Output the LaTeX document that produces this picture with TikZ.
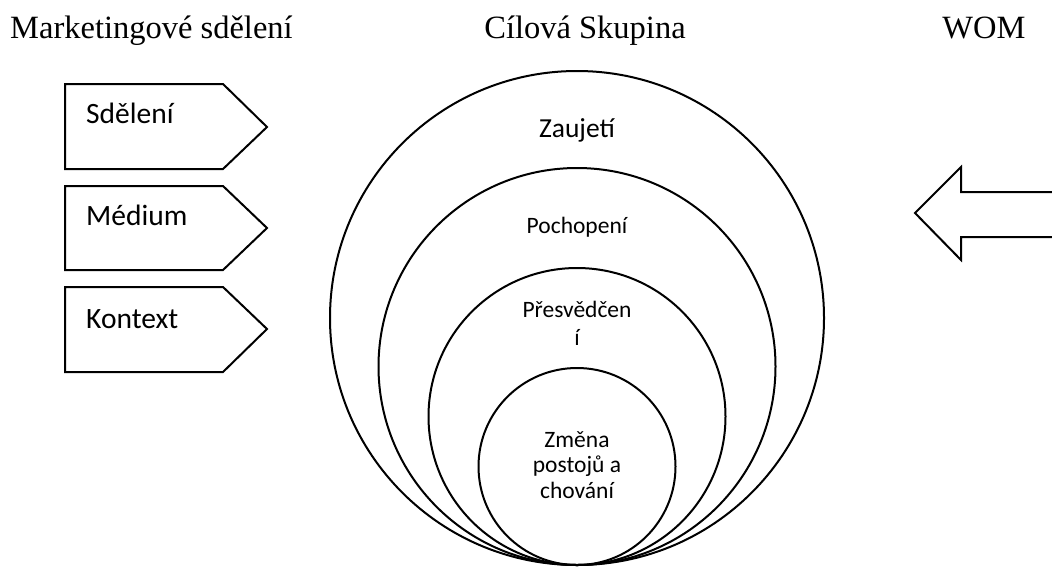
\documentclass[tikz,border=0pt]{standalone}
\usepackage{fontspec}
\setmainfont{Liberation Serif}
\newfontfamily\calib{Carlito}
\tikzset{
  every picture/.style={x=1pt,y=-1pt},
  outl/.style={draw=black, line width=2pt, line join=miter},
  ring/.style={circle, draw=black, line width=2pt, inner sep=0pt, outer sep=0pt},
  title/.style={font=\fontsize{32.5}{36}\selectfont, inner sep=0pt, anchor=base},
  lbl/.style={font=\calib\fontsize{23.5}{27}\selectfont, inner sep=0pt, anchor=base},
  boxlbl/.style={font=\calib\fontsize{29.5}{32}\selectfont, inner sep=0pt, anchor=base west},
}
\begin{document}
\begin{tikzpicture}
\useasboundingbox (0,0) rectangle (1052,566);
% titles
\node[title, anchor=base west] (tmark) at (10,38) {Marketingové sdělení};
\node[title] (tcil) at (585,38) {Cílová Skupina};
\node[title] (twom) at (984,38) {WOM};
% pentagons
\draw[outl] (65,84) coordinate (p1a) -- (223,84) -- (267,127) -- (223,169) -- (65,169) -- cycle;
\draw[outl] (65,186) coordinate (p2a) -- (223,186) -- (267,228) -- (223,270) -- (65,270) -- cycle;
\draw[outl] (65,287) coordinate (p3a) -- (223,287) -- (267,329) -- (223,372) -- (65,372) -- cycle;
\node[boxlbl] (b1) at (86,123) {Sdělení};
\node[boxlbl] (b2) at (86,225) {Médium};
\node[boxlbl] (b3) at (86,328) {Kontext};
% circles
\node[ring, minimum size=494pt] (c1) at (577,318) {};
\node[ring, minimum size=397pt] (c2) at (577,366.5) {};
\node[ring, minimum size=297pt] (c3) at (577,416.5) {};
\node[ring, minimum size=197pt] (c4) at (577,466.5) {};
\node[lbl, font=\calib\fontsize{27.5}{30}\selectfont] (l1) at (577,137) {Zaujetí};
\node[lbl] (l2) at (577,233) {Pochopení};
\node[lbl] (l3a) at (577,317) {Přesvědčen};
\node[lbl] (l3b) at (577,345) {í};
\node[lbl] (l4a) at (577,447) {Změna};
\node[lbl] (l4b) at (577,472) {postojů a};
\node[lbl] (l4c) at (577,498) {chování};
% WOM arrow
\draw[outl] (1054,192) -- (961,192) -- (961,167) -- (915,213) -- (961,260) -- (961,237) -- (1054,237);
\end{tikzpicture}
\end{document}
